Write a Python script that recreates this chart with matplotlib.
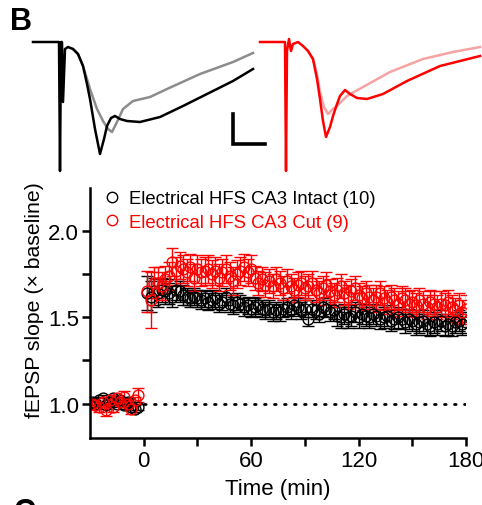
import numpy as np
import matplotlib
matplotlib.use("Agg")
import matplotlib.pyplot as plt
from matplotlib.lines import Line2D

plt.rcParams['font.family'] = ['Liberation Sans', 'DejaVu Sans']

# ---- summary data (fEPSP slope, x baseline) ----
t_base = np.arange(-29, -1, 2)
intact_base = [1.01, 1.00, 1.02, 1.03, 0.99, 1.01, 1.03, 1.00, 1.02, 0.99, 1.01, 0.98, 0.97, 0.98]
intact_base_err = [0.02, 0.02, 0.02, 0.02, 0.02, 0.02, 0.02, 0.02, 0.02, 0.02, 0.02, 0.02, 0.02, 0.02]
cut_base = [1.00, 0.99, 0.98, 1.01, 0.96, 1.02, 0.98, 1.03, 1.01, 1.04, 1.00, 0.97, 1.02, 1.05]
cut_base_err = [0.02, 0.02, 0.03, 0.02, 0.03, 0.02, 0.03, 0.02, 0.02, 0.03, 0.02, 0.03, 0.02, 0.04]

t_post = np.arange(2, 181, 2)
intact_post = [1.64, 1.62, 1.65, 1.64, 1.66, 1.65, 1.64, 1.62, 1.66, 1.65,
               1.63, 1.62, 1.61, 1.62, 1.61, 1.60, 1.61, 1.59, 1.60, 1.61,
               1.58, 1.59, 1.62, 1.58, 1.57, 1.59, 1.58, 1.56, 1.57, 1.55,
               1.56, 1.57, 1.55, 1.54, 1.55, 1.53, 1.54, 1.53, 1.55, 1.56,
               1.54, 1.57, 1.56, 1.54, 1.55, 1.49, 1.55, 1.54, 1.52, 1.56,
               1.55, 1.53, 1.54, 1.51, 1.50, 1.52, 1.50, 1.51, 1.53, 1.50,
               1.52, 1.51, 1.50, 1.52, 1.51, 1.49, 1.50, 1.51, 1.48, 1.49,
               1.50, 1.49, 1.47, 1.49, 1.48, 1.46, 1.47, 1.48, 1.46, 1.45,
               1.47, 1.46, 1.48, 1.45, 1.46, 1.45, 1.47, 1.48, 1.46, 1.47]
intact_err = [0.10, 0.09, 0.08, 0.08, 0.07, 0.07, 0.06, 0.06, 0.06, 0.06,
              0.06, 0.05, 0.05, 0.05, 0.05, 0.05, 0.05, 0.05, 0.05, 0.05,
              0.05, 0.05, 0.05, 0.05, 0.05, 0.05, 0.05, 0.05, 0.05, 0.05,
              0.05, 0.05, 0.05, 0.05, 0.05, 0.05, 0.05, 0.05, 0.05, 0.05,
              0.05, 0.05, 0.05, 0.05, 0.05, 0.04, 0.05, 0.05, 0.05, 0.05,
              0.05, 0.05, 0.05, 0.06, 0.06, 0.06, 0.06, 0.06, 0.06, 0.06,
              0.06, 0.06, 0.06, 0.06, 0.06, 0.06, 0.06, 0.06, 0.06, 0.06,
              0.06, 0.06, 0.06, 0.06, 0.06, 0.06, 0.06, 0.06, 0.06, 0.06,
              0.06, 0.06, 0.06, 0.06, 0.06, 0.06, 0.06, 0.06, 0.06, 0.06]
cut_post = [1.65, 1.60, 1.70, 1.70, 1.68, 1.72, 1.74, 1.82, 1.77, 1.80,
            1.78, 1.76, 1.79, 1.73, 1.78, 1.76, 1.77, 1.78, 1.75, 1.77,
            1.73, 1.76, 1.78, 1.74, 1.71, 1.75, 1.77, 1.79, 1.76, 1.78,
            1.73, 1.70, 1.72, 1.69, 1.71, 1.68, 1.72, 1.70, 1.67, 1.71,
            1.68, 1.66, 1.69, 1.70, 1.67, 1.68, 1.70, 1.66, 1.64, 1.67,
            1.69, 1.65, 1.63, 1.66, 1.68, 1.64, 1.62, 1.65, 1.67, 1.63,
            1.61, 1.64, 1.62, 1.60, 1.62, 1.64, 1.61, 1.59, 1.62, 1.60,
            1.58, 1.61, 1.60, 1.58, 1.59, 1.57, 1.60, 1.58, 1.56, 1.59,
            1.58, 1.56, 1.58, 1.57, 1.59, 1.56, 1.54, 1.57, 1.53, 1.55]
cut_err = [0.12, 0.16, 0.09, 0.09, 0.08, 0.08, 0.08, 0.08, 0.08, 0.08,
           0.08, 0.08, 0.08, 0.08, 0.08, 0.08, 0.08, 0.08, 0.08, 0.08,
           0.08, 0.08, 0.08, 0.08, 0.08, 0.08, 0.08, 0.08, 0.08, 0.08,
           0.07, 0.07, 0.07, 0.07, 0.07, 0.07, 0.07, 0.07, 0.07, 0.07,
           0.07, 0.07, 0.07, 0.07, 0.07, 0.07, 0.07, 0.07, 0.07, 0.07,
           0.07, 0.07, 0.07, 0.07, 0.07, 0.07, 0.07, 0.07, 0.07, 0.07,
           0.07, 0.07, 0.07, 0.07, 0.07, 0.07, 0.07, 0.07, 0.07, 0.07,
           0.07, 0.07, 0.07, 0.07, 0.07, 0.07, 0.07, 0.07, 0.07, 0.07,
           0.07, 0.07, 0.07, 0.07, 0.07, 0.07, 0.07, 0.07, 0.07, 0.08]

# ---- example traces (time, amplitude in arbitrary units) ----
intact_post_t = [3, 29, 30, 31, 32, 33, 35, 38, 43, 48, 53, 57, 60, 65, 70, 74, 77, 81, 85, 90, 97, 110, 130, 153, 177, 203, 223]
intact_post_v = [0, 0, -129, 0, 0, -60, -7, -5, -7, -12, -24, -42, -57, -87, -112, -97, -84, -76, -74, -77, -79, -80, -75, -64, -52, -39, -27]
intact_pre_t = [43, 48, 53, 57, 60, 67, 73, 78, 82, 87, 93, 103, 120, 137, 170, 203, 223]
intact_pre_v = [-7, -12, -24, -37, -47, -67, -79, -87, -90, -80, -67, -59, -55, -47, -32, -20, -11]
cut_post_t = [5, 30, 31, 32, 34, 36, 38, 43, 48, 53, 58, 62, 65, 68, 71, 75, 78, 82, 85, 90, 95, 102, 112, 128, 152, 185, 225]
cut_post_v = [0, 0, -129, -9, 3, -9, -2, 0, -4, -9, -17, -37, -57, -79, -95, -85, -74, -62, -54, -48, -52, -56, -57, -52, -39, -24, -14]
cut_pre_t = [53, 58, 62, 65, 69, 73, 78, 82, 92, 108, 135, 168, 198, 225]
cut_pre_v = [-9, -17, -32, -50, -65, -72, -67, -64, -54, -45, -30, -17, -10, -5]

W, H = 482, 506
fig = plt.figure(figsize=(W / 100, H / 100), dpi=100)

# traces
axt1 = fig.add_axes([30 / W, 1 - 175 / H, 240 / W, 140 / H])
axt1.plot(intact_pre_t, intact_pre_v, color='#8c8c8c', lw=1.8, solid_joinstyle='round')
axt1.plot(intact_post_t, intact_post_v, color='black', lw=1.8, solid_joinstyle='round')
axt1.plot([203, 203, 235], [-72, -102, -102], color='black', lw=2.6, solid_joinstyle='miter')
axt1.set_xlim(0, 240)
axt1.set_ylim(-132, 8)
axt1.axis('off')

axt2 = fig.add_axes([255 / W, 1 - 175 / H, 227 / W, 140 / H])
axt2.plot(cut_pre_t, cut_pre_v, color='#f5a3a3', lw=1.8, solid_joinstyle='round')
axt2.plot(cut_post_t, cut_post_v, color='red', lw=1.8, solid_joinstyle='round')
axt2.set_xlim(0, 227)
axt2.set_ylim(-132, 8)
axt2.axis('off')

# summary plot
ax = fig.add_axes([90 / W, 1 - 439 / H, 376 / W, 250 / H])
ax.plot([0, 180], [1.0, 1.0], color='black', lw=2, ls=(0, (0.6, 3.0)), dash_capstyle='round')

mk = dict(fmt='o', ms=7.8, mfc='none', mew=1.0, elinewidth=1.0, capsize=4, capthick=1.0)
ax.errorbar(t_base, intact_base, yerr=intact_base_err, color='black', **mk)
ax.errorbar(t_post, intact_post, yerr=intact_err, color='black', **mk)
ax.errorbar(t_base, cut_base, yerr=cut_base_err, color='red', **mk)
ax.errorbar(t_post, cut_post, yerr=cut_err, color='red', **mk)

ax.set_xlim(-30, 180)
ax.set_ylim(0.8, 2.25)
ax.set_xticks([0, 60, 120, 180])
ax.set_xticks([30, 90, 150], minor=True)
ax.set_yticks([1.0, 1.5, 2.0])
ax.set_yticks([1.25, 1.75], minor=True)
ax.set_yticklabels(['1.0', '1.5', '2.0'])
for s in ['top', 'right']:
    ax.spines[s].set_visible(False)
for s in ['left', 'bottom']:
    ax.spines[s].set_linewidth(1.8)
ax.tick_params(which='both', width=1.8, length=6, labelsize=16, pad=2)
ax.tick_params(axis='x', pad=3)
ax.set_xlabel('Time (min)', fontsize=16, labelpad=5)
ax.set_ylabel('fEPSP slope (× baseline)', fontsize=15.3, labelpad=3)
ax.yaxis.label.set_y(0.556)

handles = [Line2D([], [], ls='none', marker='o', ms=7.5, mfc='none', mew=1.0, color='black'),
           Line2D([], [], ls='none', marker='o', ms=7.5, mfc='none', mew=1.0, color='red')]
leg = ax.legend(handles, ['Electrical HFS CA3 Intact (10)', 'Electrical HFS CA3 Cut (9)'],
                loc='upper left', bbox_to_anchor=(0.0, 1.035), frameon=False,
                fontsize=13.3, handletextpad=0.3, borderaxespad=0.2,
                labelspacing=0.35, handlelength=1.2)
for txt, c in zip(leg.get_texts(), ['black', 'red']):
    txt.set_color(c)

fig.text(10 / W, 1 - 30 / H, 'B', fontsize=22, fontweight='bold')
fig.text(14 / W, 1 - 521 / H, 'C', fontsize=22, fontweight='bold')

fig.savefig('out.png', dpi=100)
